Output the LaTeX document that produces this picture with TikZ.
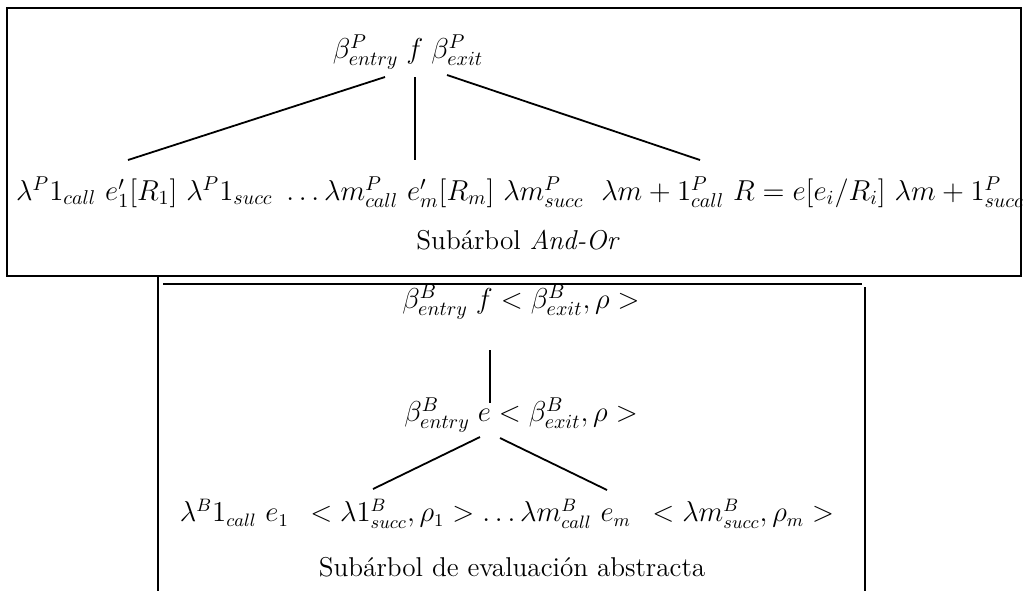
\documentclass[tikz,border=0pt]{standalone}
\begin{document}
\begin{tikzpicture}[x=0.5pt,y=-0.5pt,
  boxline/.style={line width=1pt},
  edge/.style={line width=0.9pt},
  lbl/.style={inner sep=0pt,font=\fontsize{14}{16}\selectfont},
  rowtext/.style={inner sep=0pt,font=\fontsize{13.6}{16}\selectfont},
  browtext/.style={inner sep=0pt,font=\fontsize{13.3}{16}\selectfont},
  captext/.style={inner sep=0pt,font=\fontsize{13.6}{16}\selectfont}]
\useasboundingbox (0,0) rectangle (1033,591);
% boxes
\draw[boxline] (7,8) rectangle (1021,276);
\draw[boxline] (158,277) -- (158,591);
\draw[boxline] (163,284) -- (862,284);
\draw[boxline] (865,287) -- (865,591);
% top tree
\node[lbl] (root) at (408,52) {$\beta^P_{entry}\;f\;\beta^P_{exit}$};
\node[rowtext] (row) at (520,192) {$\lambda^P 1_{call}\ e'_1[R_1]\ \lambda^P 1_{succ}\ \ldots \lambda m^P_{call}\ e'_m[R_m]\ \lambda m^P_{succ}\ \ \lambda m+1^P_{call}\ R=e[e_i/R_i]\ \lambda m+1^P_{succ}$};
\node[captext] (cap1) at (518,240) {Subárbol \textit{And-Or}};
\coordinate (r1) at (128,160);
\coordinate (r2) at (415,160);
\coordinate (r3) at (700,160);
\coordinate (s1) at (385,77);
\coordinate (s2) at (415,77);
\coordinate (s3) at (447,75);
\draw[edge] (s1) -- (r1);
\draw[edge] (s2) -- (r2);
\draw[edge] (s3) -- (r3);
% bottom tree
\node[lbl] (bf) at (521,302) {$\beta^B_{entry}\;f < \beta^B_{exit},\rho >$};
\node[lbl] (be) at (521,415) {$\beta^B_{entry}\;e < \beta^B_{exit},\rho >$};
\node[browtext] (brow) at (507,514) {$\lambda^B 1_{call}\ e_1\ \,<\lambda 1^B_{succ},\rho_1>\ldots\lambda m^B_{call}\ e_m\ \,<\lambda m^B_{succ},\rho_m>$};
\node[captext] (cap2) at (512,567) {Subárbol de evaluación abstracta};
\coordinate (b1) at (490,350);
\coordinate (b2) at (490,403);
\coordinate (c1) at (480,437);
\coordinate (c2) at (373,489);
\coordinate (d1) at (500,438);
\coordinate (d2) at (607,490);
\draw[edge] (b1) -- (b2);
\draw[edge] (c1) -- (c2);
\draw[edge] (d1) -- (d2);
\end{tikzpicture}
\end{document}
